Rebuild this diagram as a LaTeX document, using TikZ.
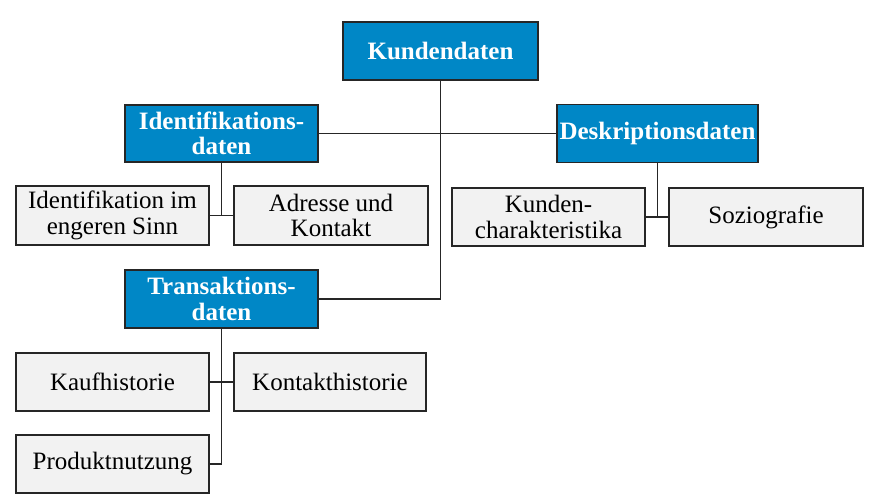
\documentclass[tikz,border=0pt]{standalone}
\usepackage{fontspec}
\setmainfont{Liberation Serif}
\definecolor{hblue}{HTML}{0087C6}
\definecolor{lgray}{HTML}{F2F2F2}
\begin{document}
\begin{tikzpicture}[x=1pt,y=-1pt,
  base/.style={draw=black!85,line width=1.4pt,inner sep=0pt,align=center,
    font=\fontsize{25}{25.5}\selectfont},
  main/.style={base,fill=hblue,text=white,font=\fontsize{25}{25.5}\selectfont\bfseries},
  leaf/.style={base,fill=lgray,text=black},
  conn/.style={draw=black!85,line width=1.3pt}]
\useasboundingbox (0,0) rectangle (875,502);
\node[main,minimum width=195pt,minimum height=58pt] (K) at (440.5,51) {Kundendaten};
\node[main,minimum width=193pt,minimum height=57pt] (I) at (221.5,133.5) {Identifikations-\\daten};
\node[main,minimum width=201pt,minimum height=58pt] (D) at (657.5,133.5) {Deskriptionsdaten};
\node[leaf,minimum width=193pt,minimum height=59pt] (IE) at (112.5,215.5) {Identifikation im\\engeren Sinn};
\node[leaf,minimum width=194pt,minimum height=59pt] (A) at (331,215.5) {Adresse und\\Kontakt};
\node[leaf,minimum width=193pt,minimum height=58pt] (KC) at (548.5,217) {Kunden-\\charakteristika};
\node[leaf,minimum width=194pt,minimum height=58pt] (S) at (766,217) {Soziografie};
\node[main,minimum width=193pt,minimum height=58pt] (T) at (221.5,299) {Transaktions-\\daten};
\node[leaf,minimum width=193pt,minimum height=58pt] (KH) at (112.5,382) {Kaufhistorie};
\node[leaf,minimum width=192pt,minimum height=58pt] (KT) at (330,382) {Kontakthistorie};
\node[leaf,minimum width=193pt,minimum height=58pt] (P) at (112.5,464) {Produktnutzung};
\draw[conn] (K.south) |- (T.east);
\draw[conn] (I.east) -- (D.west);
\draw[conn] (I.south) -- (I.south |- IE.east);
\draw[conn] (IE.east) -- (A.west);
\draw[conn] (D.south) -- (D.south |- KC.east);
\draw[conn] (KC.east) -- (S.west);
\draw[conn] (T.south) |- (P.east);
\draw[conn] (KH.east) -- (KT.west);
\end{tikzpicture}
\end{document}
